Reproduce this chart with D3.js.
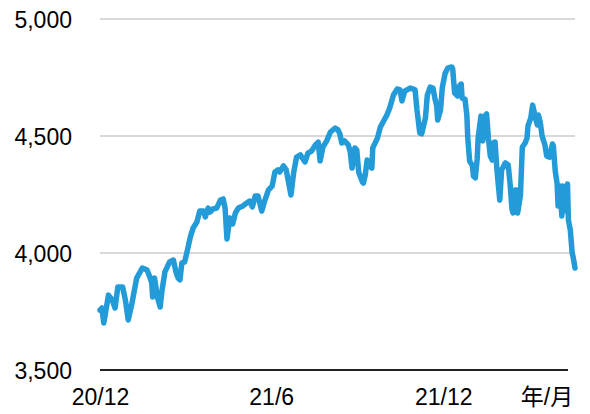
<!DOCTYPE html>
<html>
<head>
<meta charset="utf-8">
<script src="https://cdn.jsdelivr.net/npm/d3@7"></script>
<style>
  html, body { margin: 0; padding: 0; background: #fff; }
  svg { display: block; font-family: "Liberation Sans", Arial, "Noto Sans CJK JP", sans-serif; }
</style>
</head>
<body>
<div id="chart"></div>
<script>
// Index level
const dates = [
  '2020-12-01','2020-12-03','2020-12-05','2020-12-10','2020-12-14','2020-12-17','2020-12-20','2020-12-25','2020-12-28','2020-12-31',
  '2021-01-04','2021-01-09','2021-01-15','2021-01-20','2021-01-23','2021-01-25','2021-01-26','2021-01-28','2021-01-31',
  '2021-02-03','2021-02-05','2021-02-08','2021-02-13','2021-02-17','2021-02-20','2021-02-22','2021-02-24','2021-02-26',
  '2021-03-01','2021-03-04','2021-03-07','2021-03-10','2021-03-14','2021-03-17','2021-03-21','2021-03-23','2021-03-26','2021-03-28','2021-03-31',
  '2021-04-04','2021-04-08','2021-04-11','2021-04-13','2021-04-15','2021-04-18','2021-04-21','2021-04-24','2021-04-27',
  '2021-05-02','2021-05-06','2021-05-09','2021-05-12','2021-05-15','2021-05-18','2021-05-22','2021-05-25','2021-05-29',
  '2021-06-02','2021-06-05','2021-06-08','2021-06-10','2021-06-14','2021-06-17','2021-06-20','2021-06-22','2021-06-25','2021-06-28',
  '2021-07-02','2021-07-07','2021-07-10','2021-07-14','2021-07-18','2021-07-21','2021-07-23','2021-07-26','2021-07-30',
  '2021-08-03','2021-08-08','2021-08-11','2021-08-13','2021-08-15','2021-08-18','2021-08-22','2021-08-24','2021-08-26','2021-08-29','2021-08-31',
  '2021-09-02','2021-09-06','2021-09-07','2021-09-09','2021-09-11','2021-09-13','2021-09-16','2021-09-17','2021-09-22','2021-09-25','2021-09-28',
  '2021-10-02','2021-10-05','2021-10-09','2021-10-13','2021-10-16','2021-10-18','2021-10-21','2021-10-27',
  '2021-11-01','2021-11-03','2021-11-06','2021-11-08','2021-11-12','2021-11-14','2021-11-17','2021-11-20','2021-11-22','2021-11-24','2021-11-25','2021-11-28','2021-11-30',
  '2021-12-03','2021-12-06','2021-12-10','2021-12-11','2021-12-13','2021-12-16','2021-12-18','2021-12-20','2021-12-21','2021-12-24','2021-12-26','2021-12-27','2021-12-29',
  '2022-01-01','2022-01-02','2022-01-04','2022-01-06','2022-01-07','2022-01-10','2022-01-12','2022-01-14','2022-01-16','2022-01-18','2022-01-20','2022-01-22','2022-01-23','2022-01-25','2022-01-27','2022-01-30',
  '2022-02-01','2022-02-05','2022-02-08','2022-02-10','2022-02-12','2022-02-13','2022-02-15','2022-02-17','2022-02-18','2022-02-21','2022-02-23','2022-02-26','2022-02-28',
  '2022-03-01','2022-03-04','2022-03-06','2022-03-09','2022-03-11','2022-03-12','2022-03-14','2022-03-16','2022-03-19','2022-03-21','2022-03-24','2022-03-27','2022-03-28','2022-03-30',
  '2022-04-01','2022-04-02','2022-04-04','2022-04-06','2022-04-07','2022-04-09','2022-04-12','2022-04-13','2022-04-15','2022-04-17','2022-04-18','2022-04-20'
];
const values = [
  3756,3765,3701,3820,3799,3765,3855,3855,3799,3714,
  3786,3893,3936,3927,3897,3872,3812,3893,3812,
  3769,3842,3919,3962,3970,3915,3893,3885,3957,
  3962,4013,4068,4107,4132,4179,4179,4154,4192,4175,4188,
  4192,4226,4231,4192,4060,4150,4124,4171,4192,
  4201,4214,4222,4197,4244,4244,4179,4222,4269,
  4286,4346,4355,4346,4372,4355,4291,4248,4346,4410,
  4419,4389,4427,4436,4462,4474,4393,4453,4479,
  4517,4534,4526,4509,4470,4479,4462,4432,4363,4449,4440,
  4346,4303,4299,4333,4397,4376,4363,4449,4491,4538,4560,
  4590,4620,4675,4701,4697,4650,4692,4705,
  4697,4611,4513,4509,4577,4675,4709,4705,4662,4628,4568,4611,4709,
  4769,4791,4795,4786,4684,4671,4714,4722,4662,4658,4590,4491,4393,
  4372,4329,4321,4402,4491,4585,4479,4585,4594,4487,4414,4397,4470,4474,4355,4226,
  4355,4385,4376,4295,4188,4171,4269,4269,4171,4248,4453,4470,4491,
  4543,4577,4632,4577,4547,4590,4560,4500,4462,4414,4410,4466,4457,
  4350,4295,4201,4286,4158,4286,4180,4295,4141,4098,4000,3983,3936
];
const yTicks = [3500, 4000, 4500, 5000];
const xTickDates = ['2020-12-01', '2021-06-01', '2021-12-01'];
const xTickLabels = ['20/12', '21/6', '21/12'];
const xUnitLabel = '年/月';

const width = 590, height = 414;
const margin = { top: 19, right: 15, bottom: 44, left: 100 };
const fontSize = '23px';
const parse = d3.timeParse('%Y-%m-%d');
const data = dates.map((d, i) => ({ date: parse(d), value: values[i] }));

const svg = d3.select('#chart').append('svg')
  .attr('width', width)
  .attr('height', height);

const x = d3.scaleTime()
  .domain([parse('2020-12-01'), parse('2022-04-20')])
  .range([margin.left, width - margin.right]);

const y = d3.scaleLinear()
  .domain([3500, 5000])
  .range([height - margin.bottom, margin.top]);

// gridlines
svg.append('g')
  .selectAll('line')
  .data(yTicks.filter(t => t !== 3500))
  .join('line')
  .attr('x1', x.range()[0])
  .attr('x2', x.range()[1])
  .attr('y1', d => y(d))
  .attr('y2', d => y(d))
  .attr('stroke', '#d9d9d9')
  .attr('stroke-width', 2);

// y axis labels
const yAxis = svg.append('g')
  .attr('transform', `translate(${margin.left - 28},0)`)
  .call(d3.axisLeft(y).tickValues(yTicks).tickSize(0).tickFormat(d3.format(',')));
yAxis.select('.domain').remove();
yAxis.selectAll('text')
  .attr('x', 0)
  .attr('dy', '0.36em')
  .attr('fill', '#000')
  .style('font-size', fontSize)
  .style('font-family', null);

// x axis
const xAxis = svg.append('g')
  .attr('transform', `translate(0,${y(3500)})`)
  .call(d3.axisBottom(x)
    .tickValues(xTickDates.map(parse))
    .tickSize(0)
    .tickFormat((d, i) => xTickLabels[i]));
xAxis.select('.domain').remove();
xAxis.selectAll('text')
  .attr('y', 35)
  .attr('dy', 0)
  .attr('fill', '#000')
  .style('font-size', fontSize)
  .style('font-family', null);

svg.append('line')
  .attr('x1', x.range()[0])
  .attr('x2', x.range()[1] - 7)
  .attr('y1', y(3500))
  .attr('y2', y(3500))
  .attr('stroke', '#222')
  .attr('stroke-width', 2);

svg.append('text')
  .attr('x', 547)
  .attr('y', y(3500) + 35)
  .attr('text-anchor', 'middle')
  .style('font-size', fontSize)
  .text(xUnitLabel);

// series line
svg.append('path')
  .datum(data)
  .attr('fill', 'none')
  .attr('stroke', '#229bd8')
  .attr('stroke-width', 5.5)
  .attr('stroke-linejoin', 'round')
  .attr('stroke-linecap', 'round')
  .attr('d', d3.line().x(d => x(d.date)).y(d => y(d.value)));
</script>
</body>
</html>
